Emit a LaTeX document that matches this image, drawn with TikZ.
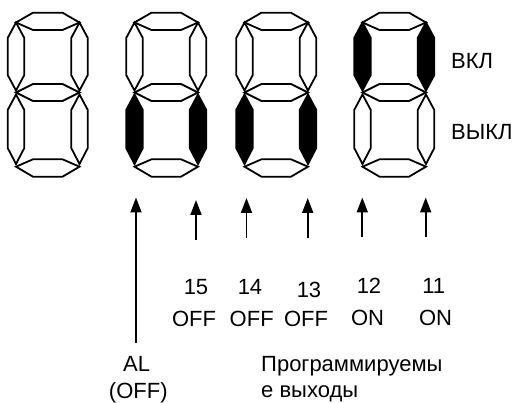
\documentclass[tikz,border=0pt]{standalone}
\usepackage{fontspec}
\setmainfont{Liberation Sans}
\usetikzlibrary{arrows.meta}
\tikzset{
  seg/.style={draw=black,line width=1.8pt,line join=miter,fill=white},
  segon/.style={seg,fill=black},
  lbl/.style={inner sep=0pt,font=\fontsize{22pt}{26pt}\selectfont},
  outarrow/.style={draw=black,line width=1.8pt,-{Triangle[length=15pt,width=11pt]}}
}
\newcommand\sevenseg[5]{%
  \begin{scope}[shift={(#1,0)}]
    % horizontal segments
    \draw[seg] (0,22.5) -- (17,12.7) -- (46.5,12.7) -- (63.5,22.5) -- (46.5,30) -- (17,30) -- cycle;
    \draw[seg] (0,92.5) -- (17,84) -- (46.5,84) -- (63.5,92.5) -- (46.5,101) -- (17,101) -- cycle;
    \draw[seg] (0,166.7) -- (17,159.3) -- (46.5,159.3) -- (63.5,166.7) -- (46.5,176.7) -- (17,176.7) -- cycle;
    % vertical segments
    \draw[#2] (0,22.5) -- (-8.3,38) -- (-8.3,75) -- (0,90.5) -- (8.3,75) -- (8.3,38) -- cycle;
    \draw[#3] (63.5,22.5) -- (55.2,38) -- (55.2,75) -- (63.5,90.5) -- (71.8,75) -- (71.8,38) -- cycle;
    \draw[#4] (0,94.5) -- (-8.3,110) -- (-8.3,148) -- (0,164) -- (8.3,148) -- (8.3,110) -- cycle;
    \draw[#5] (63.5,94.5) -- (55.2,110) -- (55.2,148) -- (63.5,164) -- (71.8,148) -- (71.8,110) -- cycle;
  \end{scope}}
\begin{document}
\begin{tikzpicture}[x=1pt,y=-1pt]
  \useasboundingbox (0,0) rectangle (512,403);
  % digits
  \sevenseg{16}{seg}{seg}{seg}{seg}
  \sevenseg{134.5}{seg}{seg}{segon}{segon}
  \sevenseg{244.5}{seg}{seg}{segon}{segon}
  \sevenseg{362.5}{segon}{segon}{seg}{seg}
  % state labels
  \node[lbl,anchor=base west] (on)  at (451,68.3) {ВКЛ};
  \node[lbl,anchor=base west] (off) at (451,140) {ВЫКЛ};
  % arrows
  \coordinate (alS) at (136,343);   \coordinate (alE) at (136,197.5);
  \coordinate (o15S) at (196,240);  \coordinate (o15E) at (196,200);
  \coordinate (o14S) at (246.5,238); \coordinate (o14E) at (246.5,198);
  \coordinate (o13S) at (307.7,238); \coordinate (o13E) at (307.7,198);
  \coordinate (o12S) at (362.3,237); \coordinate (o12E) at (362.3,197.5);
  \coordinate (o11S) at (425.7,237); \coordinate (o11E) at (425.7,197.5);
  \foreach \a in {al,o15,o14,o13,o12,o11}{\draw[outarrow] (\a S) -- (\a E);}
  % output numbers and states
  \node[lbl,anchor=base] (n15) at (196,295) {15};
  \node[lbl,anchor=base] (n14) at (250,295) {14};
  \node[lbl,anchor=base] (n13) at (309,298) {13};
  \node[lbl,anchor=base] (n12) at (369,294) {12};
  \node[lbl,anchor=base] (n11) at (433.7,294) {11};
  \node[lbl,anchor=base] (s15) at (194,326.7) {OFF};
  \node[lbl,anchor=base] (s14) at (251.7,326.7) {OFF};
  \node[lbl,anchor=base] (s13) at (306,326.7) {OFF};
  \node[lbl,anchor=base] (s12) at (367.5,326) {ON};
  \node[lbl,anchor=base] (s11) at (435.5,326) {ON};
  % bottom labels
  \node[lbl,anchor=base] (al) at (136.7,371.7) {AL};
  \node[lbl,anchor=base] (aloff) at (138.3,399) {(OFF)};
  \node[lbl,anchor=base west] (prog1) at (261,371.7) {Программируемы};
  \node[lbl,anchor=base west] (prog2) at (261,398) {е выходы};
\end{tikzpicture}
\end{document}
